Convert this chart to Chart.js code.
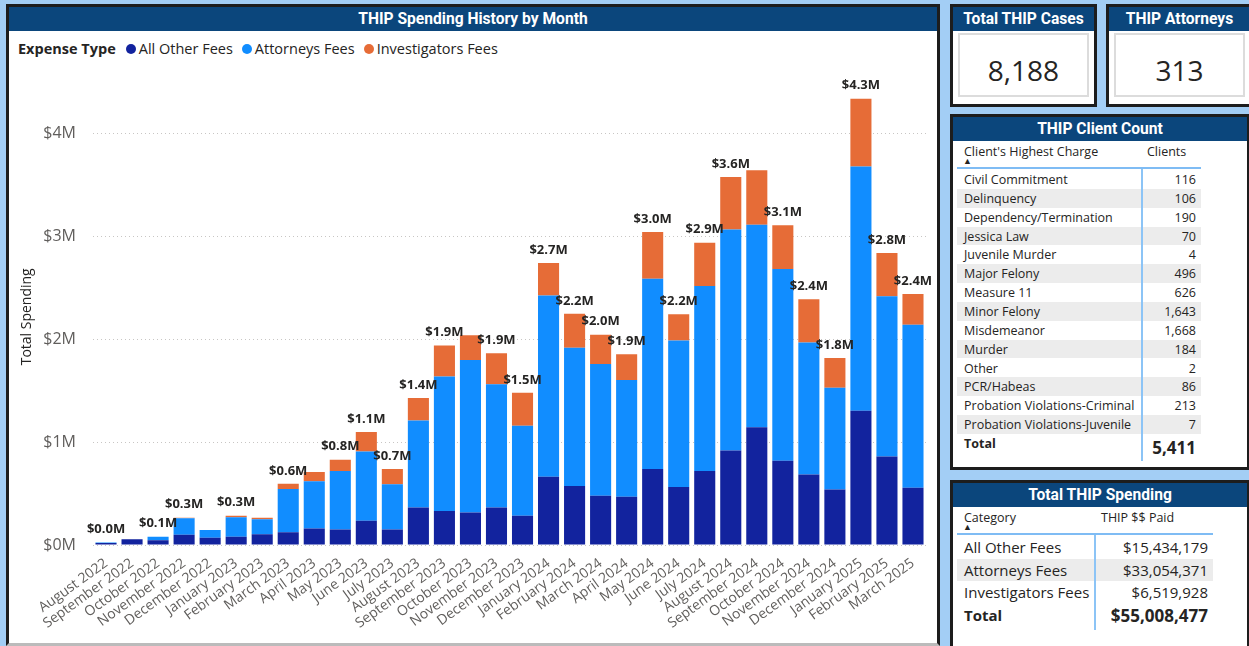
<!DOCTYPE html>
<html>
<head>
<meta charset="utf-8">
<script src="https://cdn.jsdelivr.net/npm/chart.js"></script>
<style>
  body { margin: 0; width: 1249px; height: 646px; overflow: hidden; background: #a3cef5;
         font-family: 'Segoe UI', 'Open Sans', sans-serif; color: #252423; position: relative; }
  .panel { position: absolute; background: #fff; border: 3px solid #1d1d1d; box-sizing: border-box; }
  .head { background: #0b467c; color: #fff; font: bold 15.6px Roboto, sans-serif; text-align: center;
          height: 24px; line-height: 24px; white-space: nowrap; overflow: hidden; }
  .abs { position: absolute; white-space: nowrap; }
  .cardbox { position: absolute; border: 2px solid #dcdcdc; box-sizing: border-box; background: #fff;
             font-size: 28px; text-align: center; line-height: 70px; color: #252423; }
  #legend { position: absolute; left: 18px; top: 38px; font-size: 14.5px; line-height: 22px; }
  #legend b { margin-right: 8px; }
  #legend span.dot { display: inline-block; width: 10px; height: 10px; border-radius: 50%; margin: 0 3px 0 2px; }
  #legend span.item { margin-right: 7px; }
  #chartBox { position: absolute; left: 9px; top: 62px; width: 928px; height: 580px; }
</style>
</head>
<body>

<div class="panel" style="left:6px; top:4px; width:934px; height:642px; border-bottom-color:#bbb;">
  <div class="head">THIP Spending History by Month</div>
</div>
<div id="legend"></div>
<div id="chartBox"><canvas id="spending-chart"></canvas></div>

<div class="panel" style="left:950px; top:4px; width:147px; height:103px;">
  <div class="head">Total THIP Cases</div>
</div>
<div class="cardbox" id="cases-card" style="left:958px; top:33px; width:131px; height:64px;"></div>

<div class="panel" style="left:1106px; top:4px; width:147px; height:103px;">
  <div class="head">THIP Attorneys</div>
</div>
<div class="cardbox" id="attorneys-card" style="left:1114px; top:33px; width:131px; height:64px;"></div>

<div class="panel" style="left:950px; top:114px; width:300px; height:356px;">
  <div class="head">THIP Client Count</div>
</div>
<div id="client-table"></div>

<div class="panel" style="left:950px; top:480px; width:300px; height:172px;">
  <div class="head">Total THIP Spending</div>
</div>
<div id="spend-table"></div>

<script>
// monthly spending, in millions of dollars
var months = [
    'August 2022', 'September 2022', 'October 2022', 'November 2022', 'December 2022',
    'January 2023', 'February 2023', 'March 2023', 'April 2023', 'May 2023', 'June 2023',
    'July 2023', 'August 2023', 'September 2023', 'October 2023', 'November 2023', 'December 2023',
    'January 2024', 'February 2024', 'March 2024', 'April 2024', 'May 2024', 'June 2024',
    'July 2024', 'August 2024', 'September 2024', 'October 2024', 'November 2024', 'December 2024',
    'January 2025', 'February 2025', 'March 2025'
];
var allOtherFees = [
    0.02, 0.055, 0.045, 0.10, 0.07, 0.08, 0.105, 0.125, 0.16, 0.15, 0.235,
    0.15, 0.365, 0.33, 0.315, 0.365, 0.285, 0.663, 0.573, 0.48, 0.47, 0.74,
    0.565, 0.72, 0.92, 1.145, 0.82, 0.685, 0.54, 1.307, 0.86, 0.557
];
var attorneysFees = [
    0.005, 0, 0.035, 0.16, 0.075, 0.19, 0.145, 0.42, 0.46, 0.57, 0.675,
    0.44, 0.845, 1.31, 1.485, 1.2, 0.875, 1.764, 1.346, 1.28, 1.135, 1.85,
    1.425, 1.8, 2.15, 1.97, 1.865, 1.285, 0.99, 2.375, 1.56, 1.585
];
var investigatorsFees = [
    0, 0, 0, 0.005, 0, 0.015, 0.015, 0.05, 0.09, 0.11, 0.19,
    0.15, 0.22, 0.30, 0.24, 0.30, 0.32, 0.317, 0.33, 0.285, 0.25, 0.455,
    0.255, 0.42, 0.51, 0.53, 0.425, 0.42, 0.29, 0.66, 0.42, 0.30
];
var yTicks = [0, 1, 2, 3, 4];

var totalCases = '8,188';
var totalAttorneys = '313';

var charges = [
    'Civil Commitment', 'Delinquency', 'Dependency/Termination', 'Jessica Law', 'Juvenile Murder',
    'Major Felony', 'Measure 11', 'Minor Felony', 'Misdemeanor', 'Murder', 'Other', 'PCR/Habeas',
    'Probation Violations-Criminal', 'Probation Violations-Juvenile'
];
var clientCounts = ['116', '106', '190', '70', '4', '496', '626', '1,643', '1,668', '184', '2', '86', '213', '7'];
var clientTotal = '5,411';

var spendCategories = ['All Other Fees', 'Attorneys Fees', 'Investigators Fees'];
var spendPaid = ['$15,434,179', '$33,054,371', '$6,519,928'];
var spendTotal = '$55,008,477';

var NAVY = '#12239e', BLUE = '#118dff', ORANGE = '#e66c37';
var seriesNames = ['All Other Fees', 'Attorneys Fees', 'Investigators Fees'];
var seriesColors = [NAVY, BLUE, ORANGE];

// legend
var legendHtml = '<b>Expense Type</b>';
for (var i = 0; i < seriesNames.length; i++) {
    legendHtml += '<span class="dot" style="background:' + seriesColors[i] + '"></span><span class="item">' + seriesNames[i] + '</span>';
}
document.getElementById('legend').innerHTML = legendHtml;

document.getElementById('cases-card').textContent = totalCases;
document.getElementById('attorneys-card').textContent = totalAttorneys;

// client count table
function addText(parent, text, css) {
    var d = document.createElement('div');
    d.className = 'abs';
    d.style.cssText = css;
    d.textContent = text;
    parent.appendChild(d);
    return d;
}
var ct = document.getElementById('client-table');
addText(ct, "Client's Highest Charge", 'left:964px; top:143px; font-size:12.5px;');
addText(ct, '\u25B2', 'left:963px; top:154px; font-size:9px;');
addText(ct, 'Clients', 'left:1147px; top:143px; font-size:12.5px;');
addText(ct, '', 'left:957px; top:167px; width:244px; height:2px; background:#7fbcf4;');
var rowTop = 170, rowH = 18.85;
for (var r = 0; r < charges.length; r++) {
    var y = rowTop + r * rowH;
    if (r % 2 === 1) {
        addText(ct, '', 'left:957px; top:' + y + 'px; width:244px; height:' + rowH + 'px; background:#ececec;');
    }
    addText(ct, charges[r], 'left:964px; top:' + (y + 1) + 'px; font-size:12.5px; line-height:17px;');
    addText(ct, clientCounts[r], 'left:1142px; width:54px; text-align:right; top:' + (y + 1) + 'px; font-size:12.5px; line-height:17px;');
}
addText(ct, 'Total', 'left:964px; top:435px; font-size:12.5px; font-weight:bold;');
addText(ct, clientTotal, 'left:1130px; width:66px; text-align:right; top:436px; font-size:17px; font-weight:bold;');
addText(ct, '', 'left:1141px; top:169px; width:2px; height:292px; background:#8cc4f6;');

// spending table
var st = document.getElementById('spend-table');
addText(st, 'Category', 'left:964px; top:509px; font-size:12.5px;');
addText(st, '\u25B2', 'left:963px; top:520px; font-size:9px;');
addText(st, 'THIP $$ Paid', 'left:1101px; top:509px; font-size:12.5px;');
addText(st, '', 'left:957px; top:533px; width:256px; height:2px; background:#7fbcf4;');
var sTop = 536, sH = 22.7;
for (var s = 0; s < spendCategories.length; s++) {
    var sy = sTop + s * sH;
    if (s % 2 === 1) {
        addText(st, '', 'left:957px; top:' + sy + 'px; width:256px; height:' + sH + 'px; background:#ececec;');
    }
    addText(st, spendCategories[s], 'left:964px; top:' + (sy + 1) + 'px; font-size:15px; line-height:21px;');
    addText(st, spendPaid[s], 'left:1095px; width:113px; text-align:right; top:' + (sy + 1) + 'px; font-size:15px; line-height:21px;');
}
addText(st, 'Total', 'left:964px; top:' + (sTop + 3 * sH + 1) + 'px; font-size:15px; line-height:21px; font-weight:bold;');
addText(st, spendTotal, 'left:1080px; width:128px; text-align:right; top:' + (sTop + 3 * sH) + 'px; font-size:17px; line-height:23px; font-weight:bold;');
addText(st, '', 'left:1094px; top:535px; width:2px; height:95px; background:#8cc4f6;');

// total labels above each stack, skipped when they would collide (like Power BI)
var totalLabels = {
    id: 'totalLabels',
    afterDatasetsDraw: function (chart) {
        var ctx = chart.ctx;
        var top = chart.getDatasetMeta(2).data;
        var placed = [];
        ctx.save();
        ctx.font = 'bold 13px "Segoe UI", "Open Sans", sans-serif';
        ctx.fillStyle = '#252423';
        ctx.textAlign = 'center';
        ctx.textBaseline = 'middle';
        for (var i = 0; i < months.length; i++) {
            var total = allOtherFees[i] + attorneysFees[i] + investigatorsFees[i];
            var text = '$' + total.toFixed(1) + 'M';
            var w = ctx.measureText(text).width;
            var x = top[i].x, y = top[i].y - 13;
            var clash = placed.some(function (p) {
                return Math.abs(p.x - x) < (p.w + w) / 2 && Math.abs(p.y - y) < 16;
            });
            if (clash) continue;
            placed.push({x: x, y: y, w: w});
            ctx.fillText(text, x, y);
        }
        ctx.restore();
    }
};

var context = document.getElementById('spending-chart').getContext('2d');
var chart = new Chart(context, {
    type: 'bar',
    data: {
        labels: months,
        datasets: [
            {label: seriesNames[0], data: allOtherFees, backgroundColor: NAVY},
            {label: seriesNames[1], data: attorneysFees, backgroundColor: BLUE},
            {label: seriesNames[2], data: investigatorsFees, backgroundColor: ORANGE}
        ]
    },
    options: {
        responsive: true,
        maintainAspectRatio: false,
        animation: false,
        layout: {padding: {top: 9, right: 11, left: 0, bottom: 0}},
        datasets: {bar: {categoryPercentage: 1, barPercentage: 0.81}},
        plugins: {legend: {display: false}, tooltip: {enabled: false}},
        scales: {
            x: {
                stacked: true,
                grid: {display: false},
                border: {display: false},
                ticks: {
                    autoSkip: false, minRotation: 36, maxRotation: 36, padding: 2,
                    color: '#605e5c', font: {family: '"Segoe UI", "Open Sans", sans-serif', size: 14}
                },
                afterFit: function (scale) { scale.height = 97; }
            },
            y: {
                stacked: true,
                min: 0,
                max: 4.44,
                grid: {color: '#c8c6c4', drawTicks: false, lineWidth: 1},
                border: {display: false, dash: [1, 3]},
                afterBuildTicks: function (scale) {
                    scale.ticks = yTicks.map(function (v) { return {value: v}; });
                },
                ticks: {
                    padding: 17, color: '#605e5c',
                    font: {family: '"Segoe UI", "Open Sans", sans-serif', size: 16},
                    callback: function (v) { return '$' + v + 'M'; }
                },
                title: {
                    display: true, text: 'Total Spending', color: '#252423',
                    font: {family: '"Segoe UI", "Open Sans", sans-serif', size: 14},
                    padding: {top: 10, bottom: 0}
                },
                afterFit: function (scale) { scale.width = 84; }
            }
        }
    },
    plugins: [totalLabels]
});
</script>
</body>
</html>
